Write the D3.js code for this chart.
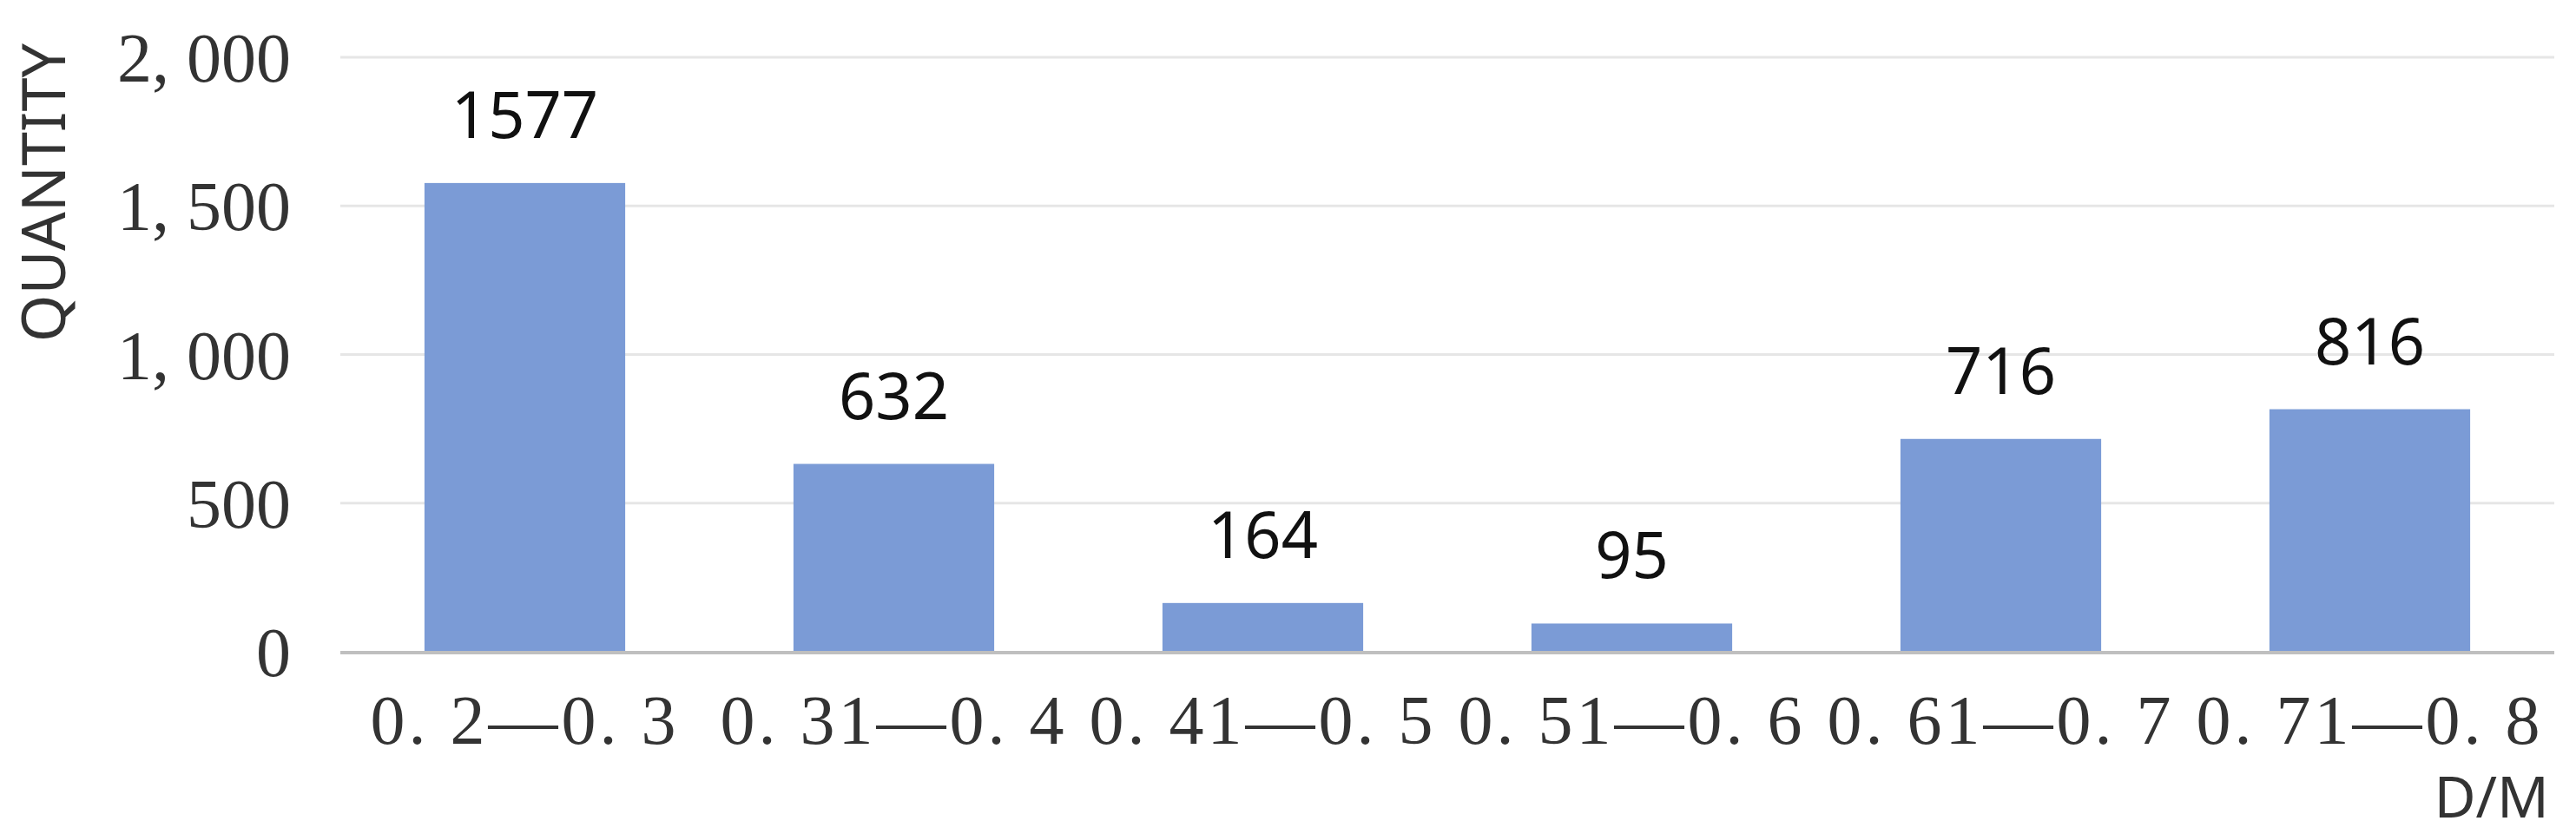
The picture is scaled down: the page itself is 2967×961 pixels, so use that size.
<!DOCTYPE html>
<html><head><meta charset="utf-8">
<script src="https://cdn.jsdelivr.net/npm/d3@7"></script>
<style>body{margin:0;background:#fff}</style></head>
<body><svg id="c" width="2967" height="961"></svg>
<script>
const categories = ["0. 2—0. 3","0. 31—0. 4","0. 41—0. 5","0. 51—0. 6","0. 61—0. 7","0. 71—0. 8"];
const values = [1577, 632, 164, 95, 716, 816];
const yTicks = [0, 500, 1000, 1500, 2000];

const svg = d3.select("#c");
const L = 392, R = 2942, T = 66, B = 751;
const x = d3.scaleBand().domain(categories).range([L, R]).paddingInner(0.456).paddingOuter(0.228);
const y = d3.scaleLinear().domain([0, 2000]).range([B, T]);

svg.append("g").selectAll("line").data(yTicks.slice(1)).join("line")
  .attr("x1", L).attr("x2", R).attr("y1", d => y(d)).attr("y2", d => y(d))
  .attr("stroke", "#e6e6e6").attr("stroke-width", 3);

svg.append("g").selectAll("text").data(yTicks).join("text")
  .attr("x", 335).attr("y", d => y(d) + 28).attr("text-anchor", "end")
  .attr("font-family", "Liberation Serif, DejaVu Serif, serif").attr("font-size", 80).attr("fill", "#333")
  .text(d => d3.format(",")(d).replace(",", ", "));

svg.append("g").selectAll("rect").data(values).join("rect")
  .attr("x", (d, i) => x(categories[i])).attr("width", x.bandwidth())
  .attr("y", d => y(d)).attr("height", d => B - y(d)).attr("fill", "#7b9bd6");

svg.append("line").attr("x1", L).attr("x2", R).attr("y1", B + 1).attr("y2", B + 1)
  .attr("stroke", "#bfbfbf").attr("stroke-width", 4);

svg.append("g").selectAll("text").data(values).join("text")
  .attr("x", (d, i) => x(categories[i]) + x.bandwidth() / 2).attr("y", d => y(d) - 52)
  .attr("text-anchor", "middle").attr("font-family", "Noto Sans, Open Sans, sans-serif")
  .attr("font-size", 74).attr("fill", "#111").text(d => d);

svg.append("g").selectAll("text").data(categories).join("text")
  .attr("x", d => x(d) + x.bandwidth() / 2).attr("y", 857).attr("text-anchor", "middle")
  .attr("font-family", "Liberation Serif, DejaVu Serif, serif").attr("font-size", 80)
  .attr("letter-spacing", 4).attr("fill", "#333")
  .text(d => d);

svg.append("text").attr("transform", "translate(75,222) rotate(-90)").attr("text-anchor", "middle")
  .attr("font-family", "Noto Sans, Open Sans, sans-serif").attr("font-size", 70).attr("fill", "#333").text("QUANTITY");

svg.append("text").attr("x", 2936).attr("y", 942).attr("text-anchor", "end")
  .attr("font-family", "Noto Sans, Open Sans, sans-serif").attr("font-size", 66).attr("fill", "#333").text("D/M");
</script></body></html>
